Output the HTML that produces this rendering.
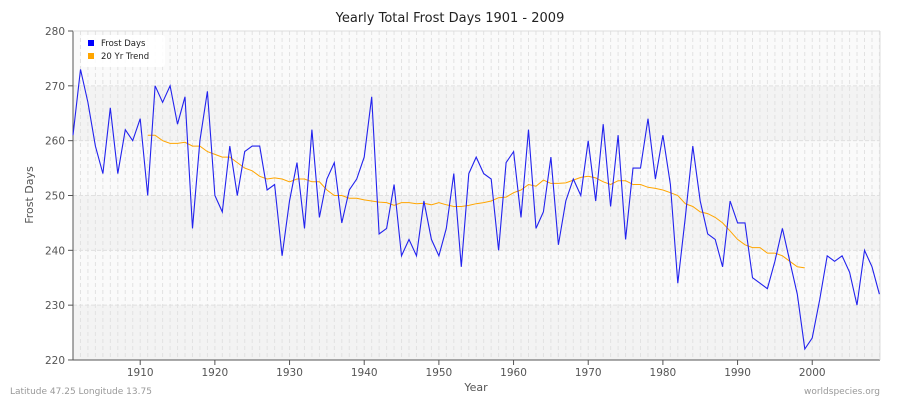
<!DOCTYPE html><html><head><style>body{margin:0;background:#fff}svg{font-family:"DejaVu Sans",sans-serif}</style></head><body>
<svg id="s" width="900" height="400" xmlns="http://www.w3.org/2000/svg">
<rect width="900" height="400" fill="#fff"/>
<text x="450" y="22" text-anchor="middle" font-size="13" fill="#222">Yearly Total Frost Days 1901 - 2009</text>
<rect x="73" y="31" width="807" height="329" fill="#fafafa"/>
<g id="bands"></g><g id="grid"></g>
<line x1="73" y1="31" x2="73" y2="360" stroke="#555"/>
<line x1="73" y1="360" x2="880" y2="360" stroke="#555"/>
<line x1="880" y1="31" x2="880" y2="360" stroke="#ddd"/>
<line x1="73" y1="31" x2="880" y2="31" stroke="#ddd"/>
<g id="ax" font-size="10.5" fill="#555"></g>
<text x="33" y="195" font-size="11" fill="#555" text-anchor="middle" transform="rotate(-90 33 195)">Frost Days</text>
<text x="476" y="391" font-size="11" fill="#555" text-anchor="middle">Year</text>
<text x="10" y="394" font-size="9" fill="#999">Latitude 47.25 Longitude 13.75</text>
<text x="880" y="394" font-size="9" fill="#999" text-anchor="end">worldspecies.org</text>
<polyline id="tr" fill="none" stroke="#ffa500" stroke-width="1"/>
<polyline id="fd" fill="none" stroke="#2222ee" stroke-width="1.1"/>
<rect x="81" y="35" width="84" height="32" rx="3" fill="#fff" opacity="0.9"/>
<rect x="88" y="40" width="6" height="6" fill="#0000ff"/><text x="101" y="46" font-size="8.5" fill="#222">Frost Days</text>
<rect x="88" y="53" width="6" height="6" fill="#ffa500"/><text x="101" y="59" font-size="8.5" fill="#222">20 Yr Trend</text>
</svg>
<script>
const X=y=>73+(y-1901)*7.467, Y=v=>31+(280-v)*5.483;
const d=[261,273,267,259,254,266,254,262,260,264,250,270,267,270,263,268,244,260,269,250,247,259,250,258,259,259,251,252,239,249,256,244,262,246,253,256,245,251,253,257,268,243,244,252,239,242,239,249,242,239,244,254,237,254,257,254,253,240,256,258,246,262,244,247,257,241,249,253,250,260,249,263,248,261,242,255,255,264,253,261,252,234,246,259,249,243,242,237,249,245,245,235,234,233,238,244,238,232,222,224,231,239,238,239,236,230,240,237,232];
const t=[261,261,260,259.5,259.5,259.7,259,259,258,257.5,257,257,256,255,254.5,253.5,253,253.2,253,252.5,253,253,252.5,252.5,251,250,250,249.5,249.5,249.2,249,248.8,248.7,248.2,248.7,248.7,248.5,248.6,248.3,248.7,248.3,248,248,248.2,248.5,248.7,249,249.6,249.7,250.5,251,252,251.7,252.8,252.2,252.2,252.3,252.8,253.3,253.5,253.2,252.5,252,252.7,252.7,252,252,251.5,251.3,251,250.5,250,248.5,248,247,246.7,246,245,243.5,242,241,240.5,240.5,239.5,239.5,239,238,237,236.8];
document.getElementById('fd').setAttribute('points',d.map((v,i)=>X(1901+i).toFixed(1)+','+Y(v).toFixed(1)).join(' '));
document.getElementById('tr').setAttribute('points',t.map((v,i)=>X(1911+i).toFixed(1)+','+Y(v).toFixed(1)).join(' '));
let b='',g='',a='';
for(const v of [270,250,230])b+=`<rect x="73" y="${Y(v)}" width="807" height="${10*5.483}" fill="#f3f3f3"/>`;
for(let y=1901;y<=2009;y++)g+=`<line x1="${X(y)}" y1="31" x2="${X(y)}" y2="360" stroke="#e2e2e2" stroke-dasharray="4,3"/>`;
for(let v=230;v<=270;v+=10)g+=`<line x1="73" y1="${Y(v)}" x2="880" y2="${Y(v)}" stroke="#e0e0e0" stroke-dasharray="4,2"/>`;
for(let v=220;v<=280;v+=10)a+=`<text x="65" y="${Y(v)+4}" text-anchor="end">${v}</text><line x1="68" y1="${Y(v)}" x2="73" y2="${Y(v)}" stroke="#555"/>`;
for(let y=1910;y<=2000;y+=10)a+=`<text x="${X(y)}" y="376" text-anchor="middle">${y}</text><line x1="${X(y)}" y1="360" x2="${X(y)}" y2="365" stroke="#555"/>`;
document.getElementById('bands').innerHTML=b;document.getElementById('grid').innerHTML=g;document.getElementById('ax').innerHTML=a;
</script></body></html>
